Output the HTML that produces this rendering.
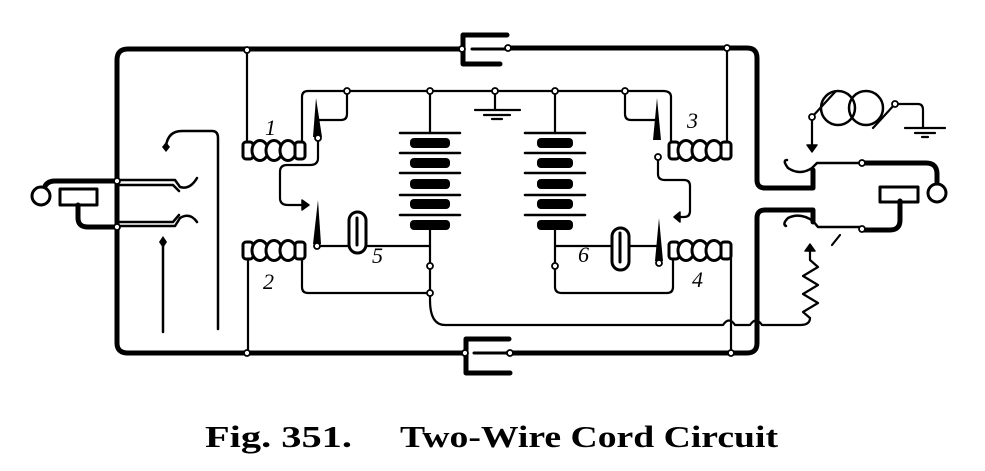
<!DOCTYPE html>
<html><head><style>
html,body{margin:0;padding:0;background:#fff;}
svg{display:block;}
</style></head><body>
<svg width="985" height="471" viewBox="0 0 985 471" xmlns="http://www.w3.org/2000/svg" fill="none" stroke="#000" stroke-linecap="round" stroke-linejoin="round">
<g stroke-width="5">
<path d="M462,49 H128 Q117,49 117,60 V343 Q117,353 128,353 H465"/>
<path d="M508,48 H747 Q757,48 757,58 V180 Q757,188 765,188 H813 V170"/>
<path d="M508,353 H747 Q757,353 757,343 V218 Q757,210 765,210 H813 V222"/>
<path d="M117,181 H55 Q46,181 44,189"/>
<path d="M78,205 V218 Q78,227 88,227 H117"/>
<path d="M862,163 H926 Q937,163 937,174 V185"/>
<path d="M900,201 V220 Q900,230 890,230 H862"/>
</g>
<g stroke-width="5">
<path d="M507,35 H463 V64 H500"/>
<path d="M509,339 H466 V373 H510"/>
</g>
<g stroke-width="3">
<path d="M472,49 H510"/><path d="M474,353 H512"/>
</g>
<circle cx="41" cy="196" r="9" stroke-width="3" fill="#fff"/>
<rect x="60" y="189" width="37" height="16" stroke-width="3"/>
<circle cx="937" cy="193" r="9" stroke-width="3" fill="#fff"/>
<rect x="880" y="187" width="38" height="15" stroke-width="3"/>
<g stroke-width="2.5">
<path d="M117,180 H175 L180,187 Q190,190 197,178"/>
<path d="M117,185 H173 L179,191"/>
<path d="M117,226 H175 L180,218 Q190,212 197,222"/>
<path d="M117,222 H173 L179,215"/>
<path d="M166,146 Q168,131 182,131 H212 Q218,131 218,138 V329"/>
<path d="M163,242 V332"/>
</g>
<path d="M163,236 l4,6 l-4,6 l-4,-6 z M166,142 l4,5 l-4,5 l-4,-5z" fill="#000" stroke="none"/>
<g stroke-width="2.5">
<path d="M862,163 H817 L812,168 Q800,176 788,168 Q782,160 787,160"/>
<path d="M862,227 H818 L813,221 Q800,212 788,218 Q782,224 786,226"/>
</g>
<g stroke-width="2.2">
<path d="M247,50 V145"/><path d="M248,258 V353"/>
<path d="M302,143 V97 Q302,91 308,91 H663 Q671,91 671,97 V143"/>
<path d="M347,91 V114 Q347,120 341,120 H316"/>
<path d="M318,138 V158 Q318,165 310,165 H287 Q280,165 280,172 V198 Q280,205 288,205 H304"/>
<path d="M317,246 H350"/><path d="M365,246 H430"/>
<path d="M302,258 V287 Q302,293 308,293 H430"/>
<path d="M430,91 V133"/><path d="M430,226 V300 Q430,325 445,325 H723 Q729,316 735,325 H750 Q756,316 762,325 H800 Q810,325 810,318"/>
<path d="M555,91 V133"/><path d="M555,226 V287 Q555,293 562,293 H667 Q673,293 673,287 V260"/>
<path d="M555,246 H613"/><path d="M628,246 H659"/>
<path d="M625,91 V114 Q625,120 631,120 H655"/>
<path d="M658,157 V174 Q658,180 665,180 H684 Q690,180 690,186 V211 Q690,217 684,217 H677"/>
<path d="M727,143 V48"/><path d="M731,258 V353"/>
<path d="M495,91 V110"/>
<path d="M475,110 H520 M484,115 H510 M492,119 H502"/>
<path d="M905,128 H945 M915,133 H935 M922,137 H928"/>
<path d="M812,117 L835,92 M873,128 L895,104 H918 Q923,104 923,110 V128 M812,117 V145"/>
<path d="M810,318 L803,312 L818,303 L803,294 L818,285 L803,276 L818,267 L810,260 V250"/>
<path d="M840,235 l-8,10"/>
</g>
<path d="M812,152 l5,-7 h-10 z M810,244 l5,7 h-10 z M309,205 l-7,-5 v10 z M674,217 l6,-5 v10z" fill="#000" stroke="#000" stroke-width="1.5"/>
<circle cx="838" cy="108" r="17" stroke-width="2.5"/>
<circle cx="866" cy="108" r="17" stroke-width="2.5"/>
<g fill="#000" stroke="none">
<path d="M316,98 L322,137 L313,137Z"/><path d="M318,200 L321,244 L313,244Z"/>
<path d="M657,98 L661,140 L653,140Z"/><path d="M659,218 L663,261 L655,261Z"/>
</g>
<rect x="349" y="212" width="17" height="41" rx="8.5" stroke-width="3" fill="#fff"/>
<path d="M357,218 V245" stroke-width="3"/>
<rect x="612" y="228" width="17" height="42" rx="8.5" stroke-width="3" fill="#fff"/>
<path d="M620,233 V262" stroke-width="3"/>
<g stroke-width="3" fill="#fff">
<g transform="translate(243,140)">
<rect x="0" y="2" width="10" height="17" rx="3"/>
<ellipse cx="17" cy="10.5" rx="8" ry="10"/><ellipse cx="31" cy="10.5" rx="8" ry="10"/><ellipse cx="45" cy="10.5" rx="8" ry="10"/>
<rect x="52" y="2" width="10" height="17" rx="3"/>
</g>
<g transform="translate(243,240)">
<rect x="0" y="2" width="10" height="17" rx="3"/>
<ellipse cx="17" cy="10.5" rx="8" ry="10"/><ellipse cx="31" cy="10.5" rx="8" ry="10"/><ellipse cx="45" cy="10.5" rx="8" ry="10"/>
<rect x="52" y="2" width="10" height="17" rx="3"/>
</g>
<g transform="translate(669,140)">
<rect x="0" y="2" width="10" height="17" rx="3"/>
<ellipse cx="17" cy="10.5" rx="8" ry="10"/><ellipse cx="31" cy="10.5" rx="8" ry="10"/><ellipse cx="45" cy="10.5" rx="8" ry="10"/>
<rect x="52" y="2" width="10" height="17" rx="3"/>
</g>
<g transform="translate(669,240)">
<rect x="0" y="2" width="10" height="17" rx="3"/>
<ellipse cx="17" cy="10.5" rx="8" ry="10"/><ellipse cx="31" cy="10.5" rx="8" ry="10"/><ellipse cx="45" cy="10.5" rx="8" ry="10"/>
<rect x="52" y="2" width="10" height="17" rx="3"/>
</g>
</g>
<g stroke-width="2.5">
<path d="M400,133 H460 M400,153 H460 M400,173 H460 M400,195 H460 M400,215 H460"/>
<path d="M525,133 H585 M525,153 H585 M525,173 H585 M525,195 H585 M525,215 H585"/>
</g>
<g fill="#000" stroke="none">
<rect x="410" y="138" width="40" height="10" rx="4"/><rect x="410" y="158" width="40" height="10" rx="4"/><rect x="410" y="179" width="40" height="10" rx="4"/><rect x="410" y="199" width="40" height="10" rx="4"/><rect x="410" y="220" width="40" height="10" rx="4"/>
<rect x="537" y="138" width="36" height="10" rx="4"/><rect x="537" y="158" width="36" height="10" rx="4"/><rect x="537" y="179" width="36" height="10" rx="4"/><rect x="537" y="199" width="36" height="10" rx="4"/><rect x="537" y="220" width="36" height="10" rx="4"/>
</g>
<g fill="#fff" stroke-width="1.8">
<circle cx="247" cy="50" r="3"/><circle cx="247" cy="353" r="3"/>
<circle cx="117" cy="181" r="3"/><circle cx="117" cy="227" r="3"/>
<circle cx="347" cy="91" r="3"/><circle cx="430" cy="91" r="3"/><circle cx="495" cy="91" r="3"/><circle cx="555" cy="91" r="3"/><circle cx="625" cy="91" r="3"/>
<circle cx="318" cy="138" r="3"/><circle cx="317" cy="246" r="3"/><circle cx="430" cy="266" r="3"/><circle cx="430" cy="293" r="3"/>
<circle cx="555" cy="266" r="3"/><circle cx="658" cy="157" r="3"/><circle cx="659" cy="263" r="3"/>
<circle cx="727" cy="48" r="3"/><circle cx="731" cy="353" r="3"/>
<circle cx="508" cy="48" r="3"/><circle cx="510" cy="353" r="3"/><circle cx="462" cy="49" r="3"/><circle cx="465" cy="353" r="3"/>
<circle cx="862" cy="163" r="3"/><circle cx="862" cy="229" r="3"/><circle cx="812" cy="117" r="3"/><circle cx="895" cy="104" r="3"/>
</g>
<g fill="#000" stroke="none" font-family="Liberation Serif, serif" font-style="italic" font-size="22">
<text x="265" y="135">1</text><text x="263" y="289">2</text><text x="687" y="128">3</text><text x="692" y="287">4</text>
<text x="372" y="263">5</text><text x="578" y="262">6</text>
</g>
<g fill="#000" stroke="none" font-family="Liberation Serif, serif" font-weight="bold" font-size="31">
<text x="205" y="447" textLength="147" lengthAdjust="spacingAndGlyphs">Fig. 351.</text>
<text x="400" y="447" textLength="378" lengthAdjust="spacingAndGlyphs">Two-Wire Cord Circuit</text>
</g>
</svg>
</body></html>
